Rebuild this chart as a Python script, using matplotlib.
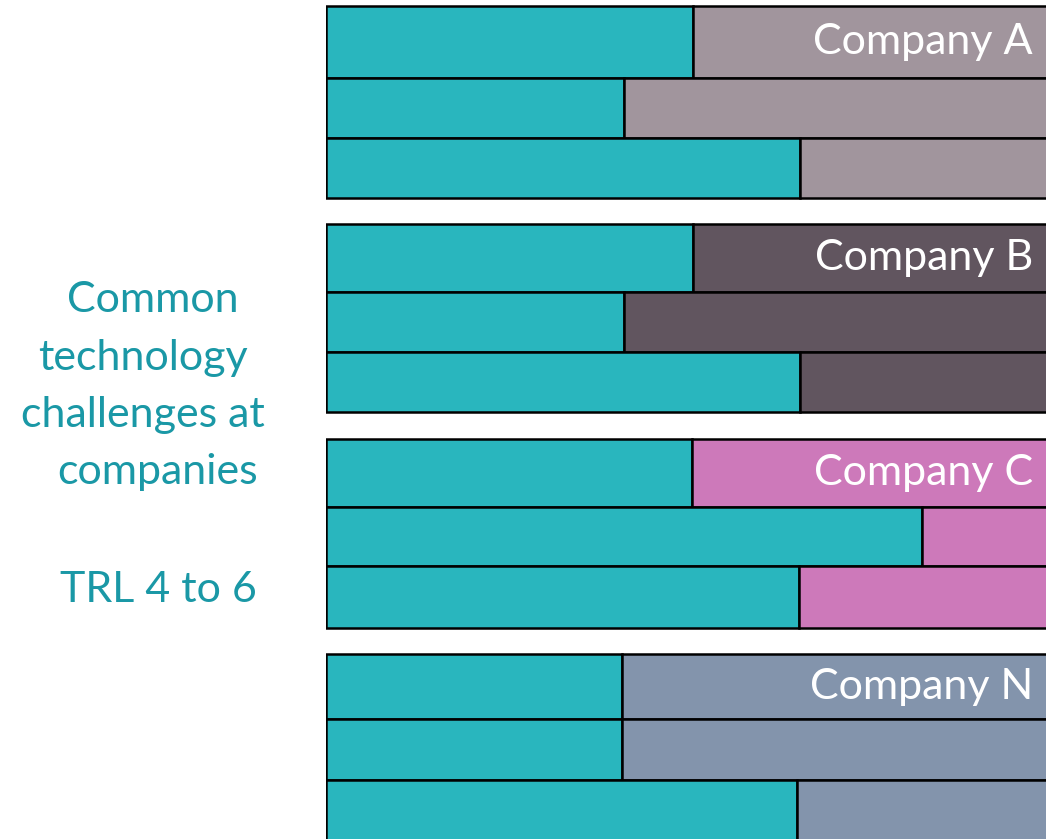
import matplotlib
matplotlib.use("Agg")
import matplotlib.pyplot as plt

# ---- data ----
companies = ["Company A", "Company B", "Company C", "Company N"]
teal_share_A = [49.6, 40.3, 64.1]
teal_share_B = [49.6, 40.3, 64.1]
teal_share_C = [49.5, 80.5, 63.9]
teal_share_N = [40.0, 40.0, 63.6]
total = 100.0
left_lines = ["Common", "technology", "challenges at", "companies"]
left_sub = "TRL 4 to 6"

teal_shares = [teal_share_A, teal_share_B, teal_share_C, teal_share_N]

# ---- styles / layout ----
TEAL = "#29B6BE"
company_colors = ["#A1959D", "#61555F", "#CD79BA", "#8394AC"]
TEXT_TEAL = "#1A98A6"
FONT = "Lato"
FS = 31

W, H = 1046, 839
fig = plt.figure(figsize=(W / 100, H / 100), dpi=100)
fig.patch.set_facecolor("white")

# axes in pixel space (x extends past the right border, like the cropped original)
x0_px, x1_px = 326, 1066
ax = fig.add_axes([x0_px / W, 0, (x1_px - x0_px) / W, 1])
ax.set_xlim(0, total)
ax.set_ylim(H, 0)
ax.axis("off")

# row edges in pixel rows for each group
row_edges = [
    [6, 78, 138, 198],
    [224, 292, 352, 412],
    [439, 507, 566, 628],
    [654, 719, 780, 852],
]

for g, (name, shares, col, edges) in enumerate(zip(companies, teal_shares, company_colors, row_edges)):
    for r, s in enumerate(shares):
        top, bot = edges[r], edges[r + 1]
        ax.barh((top + bot) / 2, s, height=bot - top, left=0, color=TEAL,
                edgecolor="black", linewidth=1.8, zorder=2)
        ax.barh((top + bot) / 2, total - s, height=bot - top, left=s, color=col,
                edgecolor="black", linewidth=1.8, zorder=2)
    # label in first row
    yc = (edges[0] + edges[1]) / 2
    fig.text(1033 / W, 1 - yc / H, name, ha="right", va="center",
             color="white", fontsize=FS, family=FONT)

# left annotation
line_centers = [300, 358, 415, 472]
line_x = [153, 143, 143, 158]
for txt, yc, xc in zip(left_lines, line_centers, line_x):
    fig.text(xc / W, 1 - yc / H, txt, ha="center", va="center",
             color=TEXT_TEAL, fontsize=FS, family=FONT)
fig.text(158 / W, 1 - 590 / H, left_sub, ha="center", va="center",
         color=TEXT_TEAL, fontsize=FS, family=FONT)

fig.savefig("out.png", dpi=100, facecolor="white")
